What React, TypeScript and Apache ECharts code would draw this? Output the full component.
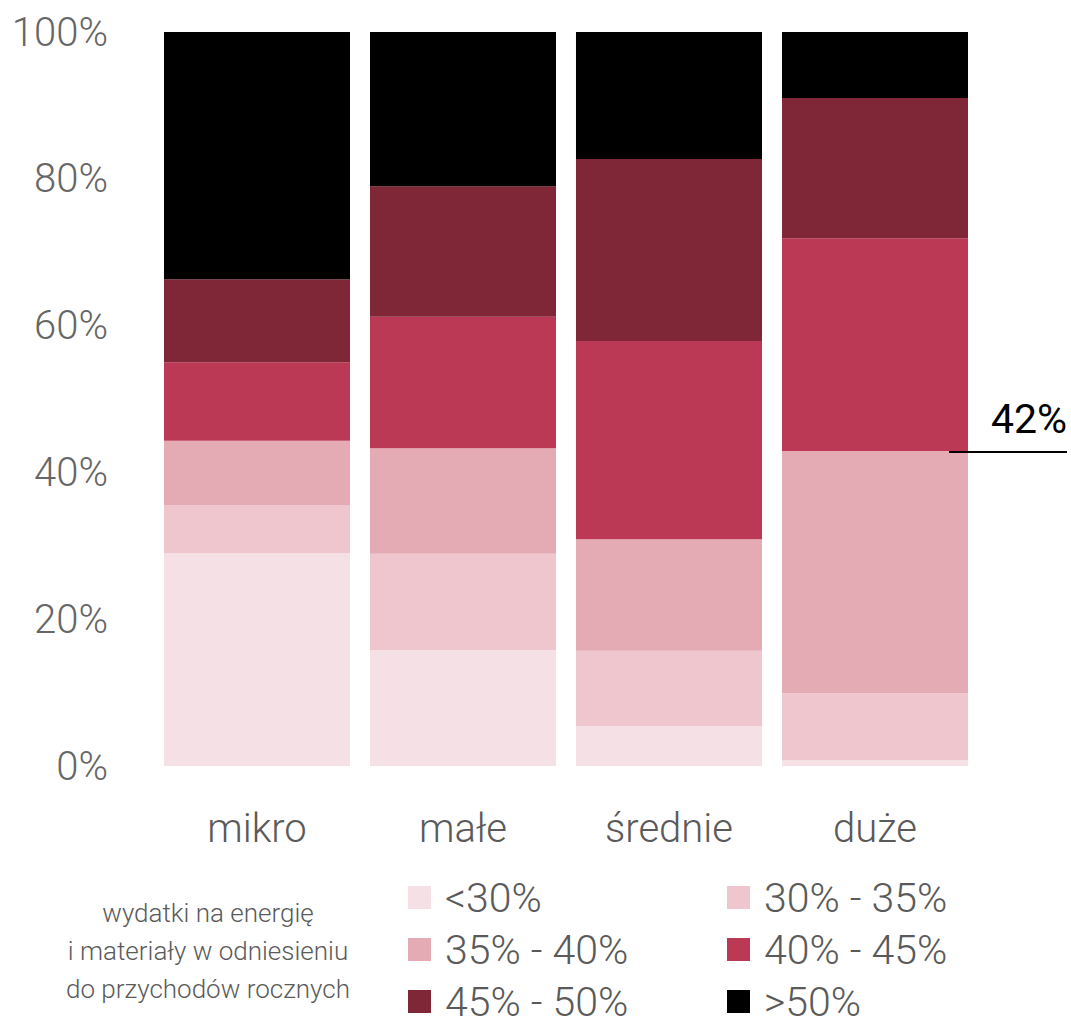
import React, { useEffect, useRef } from "react";
import * as echarts from "echarts";

const categories = ["mikro", "małe", "średnie", "duże"];
const seriesNames = ["<30%", "30% - 35%", "35% - 40%", "40% - 45%", "45% - 50%", ">50%"];
const colors = ["#f5e1e5", "#efc6cd", "#e5abb5", "#bc3955", "#7f2637", "#000000"];
const lt30 = [29.0, 15.8, 5.4, 0.8];
const r30_35 = [6.5, 13.1, 10.3, 9.1];
const r35_40 = [8.8, 14.4, 15.2, 33.0];
const r40_45 = [10.7, 17.9, 27.0, 29.0];
const r45_50 = [11.3, 17.8, 24.8, 19.1];
const gt50 = [33.7, 21.0, 17.3, 9.0];
const seriesData = [lt30, r30_35, r35_40, r40_45, r45_50, gt50];
const yTicks = [0, 20, 40, 60, 80, 100];
const annotationLabel = "42%";
const annotationCategory = 3;
const legendTitle = "wydatki na energię\ni materiały w odniesieniu\ndo przychodów rocznych";

const FONT = "Roboto";

export default function App() {
  const ref = useRef<HTMLDivElement>(null);
  useEffect(() => {
    if (!ref.current) return;
    const chart = echarts.init(ref.current, null, { renderer: "svg" });
    const legendPos = [
      [408, 877],
      [727, 877],
      [408, 929],
      [727, 929],
      [408, 981],
      [727, 981],
    ];
    const option: any = {
      animation: false,
      backgroundColor: "#ffffff",
      grid: { left: 154, right: 93, top: 32, bottom: 255 },
      xAxis: {
        type: "category",
        data: categories,
        axisLine: { show: false },
        axisTick: { show: false },
        axisLabel: {
          color: "#5a5a5a",
          fontFamily: FONT,
          fontWeight: 300,
          fontSize: 40,
          margin: 42,
        },
      },
      yAxis: {
        type: "value",
        min: 0,
        max: 100,
        interval: 20,
        splitLine: { show: false },
        axisLine: { show: false },
        axisTick: { show: false },
        axisLabel: {
          color: "#666666",
          fontFamily: FONT,
          fontWeight: 300,
          fontSize: 40,
          margin: 46,
          formatter: (v: number) => (yTicks.includes(v) ? v + "%" : ""),
        },
      },
      legend: seriesNames.map((name, i) => ({
        orient: "horizontal",
        left: legendPos[i][0],
        top: legendPos[i][1],
        itemWidth: 23,
        itemHeight: 23,
        icon: "rect",
        padding: 0,
        data: [name],
        textStyle: {
          color: "#5a5a5a",
          fontFamily: FONT,
          fontWeight: 300,
          fontSize: 41,
          lineHeight: 28,
          padding: [0, 0, 0, 9],
        },
      })),
      series: seriesNames.map((name, i) => ({
        name,
        type: "bar",
        stack: "total",
        data: seriesData[i],
        barCategoryGap: "9.7%",
        itemStyle: { color: colors[i] },
        emphasis: { disabled: true },
      })),
    };
    chart.setOption(option);

    const cum = seriesData[0][annotationCategory] + seriesData[1][annotationCategory] + seriesData[2][annotationCategory];
    const y = chart.convertToPixel({ yAxisIndex: 0 }, cum) as number;
    const xc = chart.convertToPixel({ xAxisIndex: 0 }, categories[annotationCategory]) as number;
    chart.setOption({
      graphic: [
        {
          type: "text",
          x: 208,
          y: 951,
          style: {
            text: legendTitle,
            fill: "#5a5a5a",
            font: `300 26px ${FONT}`,
            lineHeight: 38,
            align: "center",
            verticalAlign: "middle",
          },
        },
        {
          type: "line",
          shape: { x1: xc + 74, y1: y + 1, x2: 1067, y2: y + 1 },
          style: { stroke: "#000000", lineWidth: 2 },
          z: 10,
        },
        {
          type: "text",
          x: 1067,
          y: y - 12,
          style: {
            text: annotationLabel,
            fill: "#000000",
            font: `400 41px ${FONT}`,
            align: "right",
            verticalAlign: "bottom",
          },
          z: 10,
        },
      ],
    });
    return () => chart.dispose();
  }, []);
  return <div ref={ref} style={{ width: 1071, height: 1021, position: "absolute", left: 0, top: 0 }} />;
}
